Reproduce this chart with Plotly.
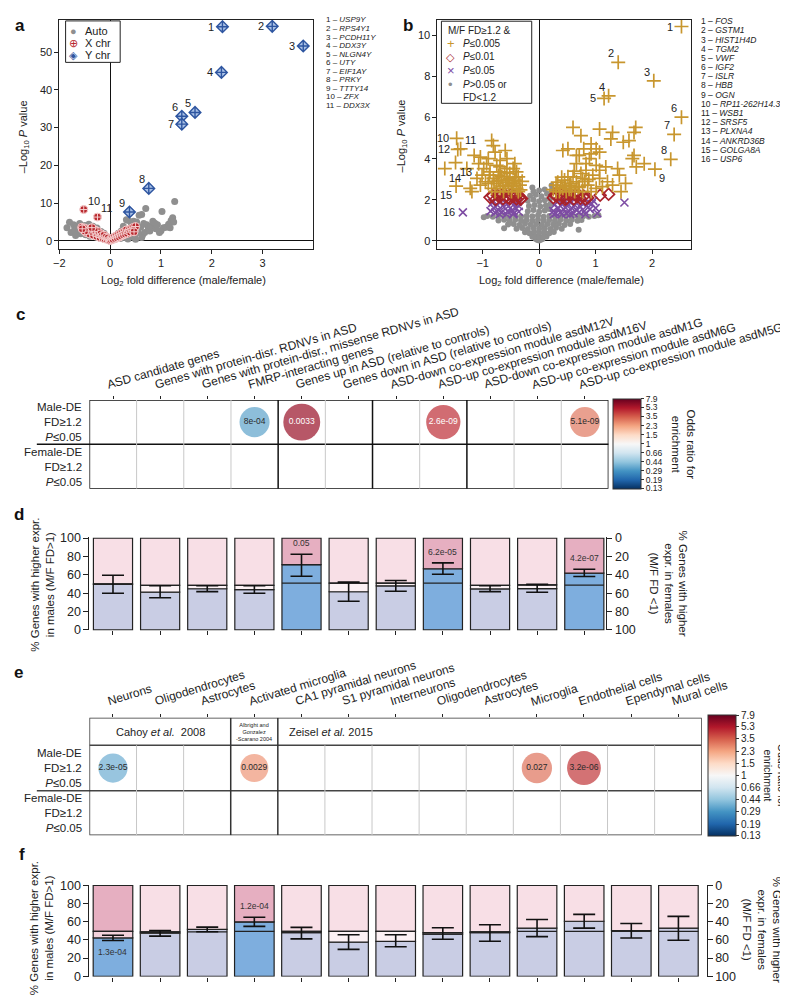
import math
import plotly.graph_objects as go

W, H = 788, 996
FONT = "Liberation Sans, Arial, Helvetica, sans-serif"


def px(x):
    return x / W


def py(y):
    return 1 - y / H


# ======================= DATA =======================
# ---- Panel a: volcano, sex chromosomes ----
a_ychr_x = [2.21, 3.19, 3.80, 2.19, 1.67, 1.41, 1.41, 0.76, 0.38]
a_ychr_y = [56.7, 56.8, 51.6, 44.6, 34.0, 33.0, 30.9, 13.9, 7.65]
a_ychr_num = ["1", "2", "3", "4", "5", "6", "7", "8", "9"]

a_xchr_x = [-0.52, -0.25,
            -0.56, -0.52, -0.50, -0.47, -0.45, -0.42, -0.40, -0.38, -0.35, -0.33,
            -0.30, -0.28, -0.26, -0.24, -0.22, -0.20, -0.18, -0.16, -0.14, -0.12,
            -0.10, -0.08, -0.06, -0.04, -0.02,
            0.00, 0.02, 0.04, 0.06, 0.08, 0.10, 0.12, 0.14, 0.16, 0.18,
            0.20, 0.22, 0.24, 0.26, 0.28, 0.30, 0.32, 0.34, 0.36, 0.38,
            0.40, 0.42, 0.44, 0.46, 0.48, 0.50,
            0.47, -0.50, -0.36, -0.55]
a_xchr_y = [8.3, 6.3,
            3.6, 2.9, 3.4, 2.2, 3.0, 2.6, 1.8, 3.3, 2.4, 1.5,
            2.9, 2.0, 1.2, 2.5, 1.6, 0.9, 1.9, 1.3, 0.7, 1.5,
            0.5, 1.0, 0.4, 0.8, 0.2,
            0.1, 0.3, 0.7, 0.4, 1.0, 0.6, 1.3, 0.8, 1.6, 1.0,
            1.9, 1.3, 2.2, 1.6, 2.5, 1.8, 2.9, 2.0, 2.6, 3.0,
            2.3, 3.3, 2.7, 3.6, 3.1, 3.8,
            2.4, 2.6, 3.5, 3.2]
a_xchr_num = ["10", "11"]

a_auto_x = [-0.85, -0.80, -0.77, -0.72, -0.70, -0.68, -0.65, -0.62, -0.60, -0.58,
            -0.55, -0.52, -0.50, -0.48, -0.46, -0.44, -0.42, -0.40, -0.38, -0.36,
            -0.34, -0.32, -0.30, -0.28, -0.26, -0.24, -0.22, -0.20, -0.18, -0.16,
            -0.14, -0.12, -0.10, -0.08, -0.06, -0.04, -0.02,
            0.02, 0.04, 0.06, 0.08, 0.10, 0.12, 0.14, 0.16, 0.18, 0.20,
            0.22, 0.24, 0.26, 0.28, 0.30, 0.32, 0.34, 0.36, 0.38, 0.40,
            0.42, 0.44, 0.46, 0.48, 0.50, 0.52,
            0.55, 0.57, 0.60, 0.62, 0.64, 0.66, 0.68, 0.70, 0.72, 0.75,
            0.78, 0.80, 0.84, 0.88, 0.90, 0.93, 0.97, 1.00, 1.02, 1.05,
            1.10, 1.15, 1.18, 1.20, 1.23, 1.25, 1.27,
            0.35, 0.50, 0.62, 0.45]
a_auto_y = [3.5, 4.9, 2.2, 4.3, 3.0, 1.4, 3.8, 2.6, 4.6, 1.9,
            3.3, 2.8, 4.1, 1.6, 3.6, 2.3, 4.4, 1.2, 3.0, 2.0,
            3.9, 1.5, 2.7, 1.0, 3.4, 2.1, 0.8, 1.7, 2.5, 0.6,
            1.3, 2.0, 0.5, 1.1, 0.3, 0.7, 0.2,
            0.2, 0.6, 0.3, 1.0, 0.5, 1.5, 0.8, 2.0, 1.2, 0.6,
            2.6, 1.6, 3.9, 0.9, 2.2, 5.6, 1.4, 5.4, 3.0, 1.9,
            4.2, 2.6, 5.2, 1.2, 3.4, 5.0,
            2.2, 6.8, 3.6, 7.0, 1.6, 4.6, 2.2, 8.6, 4.3, 3.0,
            2.6, 3.9, 5.2, 4.7, 3.2, 4.3, 2.2, 2.7, 7.8, 3.5,
            3.6, 4.4, 3.5, 5.4, 6.1, 5.0, 10.4,
            0.5, 0.4, 0.9, 1.0]
a_genes = ["USP9Y", "RPS4Y1", "PCDH11Y", "DDX3Y", "NLGN4Y", "UTY", "EIF1AY",
           "PRKY", "TTTY14", "ZFX", "DDX3X"]
a_xticks = [-1, 0, 1, 2, 3]
a_xticklabels = ["\u22122", "0", "1", "2", "3"]

# ---- Panel b: volcano, autosomal genes ----
b_gold_x = [2.52, 1.40, 2.03, 1.23, 1.15, 2.52, 2.39, 2.33, 2.05, -1.46, -1.39, -1.44, -1.48, -1.67, -1.47,
            -1.22, -1.19, -1.15, -1.04, -1.07, -0.98, -1.01, -1.10, -0.95, -1.04,
            -0.84, -0.81, -0.78, -0.90, -0.69, -0.60, -0.57, -0.43, -0.46, -0.75,
            -0.87, -0.69, -0.57, -0.40, -0.81, -0.66, -0.52, -0.37, -0.90, -0.75,
            -0.60, -0.46, -0.34, -0.84, -0.69, -0.54, -0.40, -0.78, -0.63, -0.49,
            -0.37, -0.72, -0.57, -0.43, -0.52, -0.69, -0.93, -1.28,
            -0.64, -0.48, -0.33, -0.80, -0.55, -0.42, -0.30, -0.88, -0.72, -0.61,
            0.60, 0.74, 1.07, 1.30, 1.27, 1.71, 1.68, 1.59, 1.49, 0.92,
            1.01, 0.79, 0.51, 0.42, 1.07, 0.92, 0.71, 1.68, 1.65, 1.86,
            1.72, 1.39, 1.42, 1.18, 1.01, 0.83, 0.66, 0.66, 0.89, 1.07,
            0.95, 1.21, 1.30, 1.12, 1.45, 1.53, 1.07, 0.30, 0.42, 0.54,
            0.66, 0.77, 0.30, 0.45, 0.60, 0.74, 0.83, 0.36, 0.48, 0.63,
            0.77, 0.92, 0.71, 0.86, 1.01, 0.51, 0.25, 0.38, 0.57,
            0.33, 0.56, 0.69, 0.81, 0.47, 0.62, 0.88, 0.40, 0.53]
b_gold_y = [10.43, 8.69, 7.79, 7.06, 6.93, 6.02, 5.18, 3.97, 3.49, 4.99, 4.48, 4.45, 3.81, 3.52, 2.67,
            2.56, 2.40, 4.16, 4.08, 3.76, 3.52, 3.20, 3.04, 2.88, 2.72,
            4.88, 4.64, 4.32, 4.00, 3.92, 4.40, 4.00, 3.76, 3.52, 3.68,
            3.36, 3.36, 3.52, 3.36, 3.04, 3.12, 3.04, 3.12, 2.80, 2.80,
            2.72, 2.80, 2.72, 2.56, 2.56, 2.56, 2.56, 2.40, 2.40, 2.40,
            2.40, 2.96, 2.96, 2.96, 3.28, 3.60, 3.76, 3.52,
            2.66, 2.66, 2.48, 2.90, 2.86, 3.10, 2.90, 3.20, 3.20, 3.34,
            5.52, 5.12, 5.44, 5.28, 4.96, 5.52, 5.28, 4.88, 4.80, 4.72,
            4.48, 4.48, 4.48, 4.40, 4.32, 4.24, 4.16, 4.16, 4.00, 3.76,
            3.60, 3.52, 3.20, 3.60, 3.68, 3.76, 3.76, 4.16, 4.00, 3.44,
            3.20, 2.88, 2.72, 2.64, 2.40, 2.80, 3.04, 2.40, 2.56, 2.72,
            2.88, 3.04, 2.72, 2.96, 3.12, 3.28, 3.44, 2.40, 2.40, 2.40,
            2.40, 2.40, 2.64, 2.72, 2.56, 3.12, 2.50, 2.60, 2.50,
            2.86, 2.80, 2.60, 2.90, 2.66, 3.40, 3.00, 3.10, 2.52]
b_gold_num = [str(i) for i in range(1, 16)]

b_red_x = [-0.87, -0.77, -0.70, -0.64, -0.58, -0.52, -0.46, -0.40, -0.35, -0.31, -0.66, -0.50, -0.38,
           -0.82, -0.74, -0.55, -0.43, -0.33,
           0.25, 0.31, 0.37, 0.43, 0.49, 0.55, 0.61, 0.67, 0.73, 0.79, 0.86, 1.08, 1.23, 0.40, 0.64,
           0.28, 0.46, 0.52, 0.70, 0.82]
b_red_y = [2.12, 2.02, 2.15, 2.05, 2.18, 2.06, 2.16, 2.04, 2.14, 2.07, 2.24, 2.25, 2.24,
           2.20, 2.22, 2.10, 2.22, 2.03,
           2.10, 2.20, 2.05, 2.16, 2.07, 2.20, 2.04, 2.15, 2.07, 2.18, 2.10, 2.22, 2.27, 2.25, 2.25,
           2.24, 2.02, 2.26, 2.24, 2.03]

b_purple_x = [-1.35, 1.51,
              -0.86, -0.80, -0.78, -0.74, -0.72, -0.68, -0.66, -0.62, -0.60, -0.56,
              -0.54, -0.50, -0.48, -0.45, -0.44, -0.41, -0.38, -0.36, -0.83, -0.70,
              -0.58, -0.46, -0.36,
              0.25, 0.27, 0.30, 0.32, 0.34, 0.38, 0.40, 0.43, 0.46, 0.48,
              0.50, 0.53, 0.56, 0.58, 0.61, 0.63, 0.66, 0.69, 0.71, 0.73,
              0.76, 0.80, 0.84, 0.87, 0.90, 0.93, 0.96, 1.00, 1.03, 0.82,
              0.26, 0.40, 0.55]
b_purple_y = [1.39, 1.87,
              1.45, 1.60, 1.38, 1.75, 1.50, 1.90, 1.40, 1.65, 1.85, 1.45,
              1.70, 1.95, 1.50, 1.35, 1.80, 1.60, 1.90, 1.42, 1.85, 1.30,
              1.30, 1.30, 1.70,
              1.45, 1.75, 1.35, 1.90, 1.60, 1.40, 1.80, 1.55, 1.95, 1.35,
              1.70, 1.45, 1.85, 1.60, 1.35, 1.75, 1.50, 1.90, 1.40, 1.65,
              1.85, 1.45, 1.70, 1.90, 1.55, 1.80, 1.95, 1.60, 1.35, 1.30,
              1.30, 1.30, 1.30]
b_purple_num = ["16"]

b_gray_x = [0.00, -0.03, 0.03, -0.06, 0.06,
            -0.12, -0.06, 0.00, 0.07, 0.13,
            -0.25, -0.17, -0.09, 0.00, 0.09, 0.18, 0.26,
            -0.40, -0.30, -0.20, -0.10, 0.00, 0.10, 0.20, 0.30, 0.40,
            -0.55, -0.45, -0.35, -0.25, -0.15, -0.05, 0.05, 0.15, 0.25, 0.35, 0.45, 0.55, 0.70, -0.62,
            -0.72, -0.62, -0.52, -0.42, -0.32, -0.22, -0.12, -0.02, 0.08, 0.18, 0.28, 0.38, 0.48, 0.58, 0.68, 0.75,
            -0.92, -0.82, -0.72, -0.62, -0.52, -0.42, -0.32, -0.22, -0.12, -0.02, 0.08,
            0.18, 0.28, 0.38, 0.48, 0.58, 0.68, 0.78, 0.88, 0.98, 1.05, -0.98,
            -0.20, -0.10, 0.00, 0.10, 0.18, -0.18, -0.08, 0.02, 0.12, 0.20,
            -0.20, -0.10, 0.00, 0.10, 0.19, -0.16, -0.06, 0.04, 0.14, 0.22,
            -0.10, 0.00, 0.10, 0.22, -0.12]
b_gray_y = [0.02, 0.05, 0.06, 0.10, 0.10,
            0.20, 0.22, 0.18, 0.20, 0.22,
            0.42, 0.38, 0.45, 0.40, 0.43, 0.38, 0.44,
            0.60, 0.63, 0.58, 0.64, 0.60, 0.62, 0.58, 0.64, 0.60,
            0.80, 0.83, 0.78, 0.84, 0.80, 0.82, 0.79, 0.83, 0.80, 0.84, 0.78, 0.82, 0.55, 0.62,
            1.00, 1.03, 0.98, 1.04, 1.00, 1.02, 0.98, 1.03, 1.00, 1.02, 0.98, 1.04, 1.00, 1.03, 0.98, 1.02,
            1.22, 1.18, 1.24, 1.20, 1.17, 1.23, 1.19, 1.22, 1.20, 1.24, 1.18,
            1.22, 1.20, 1.17, 1.23, 1.19, 1.22, 1.20, 1.18, 1.22, 1.25, 1.15,
            1.45, 1.50, 1.42, 1.48, 1.55, 1.70, 1.75, 1.68, 1.72, 1.80,
            1.95, 2.00, 1.93, 1.98, 2.05, 2.20, 2.25, 2.18, 2.30, 2.45,
            2.40, 2.45, 2.50, 2.70, 2.60]
b_genes = ["FOS", "GSTM1", "HIST1H4D", "TGM2", "VWF", "IGF2", "ISLR", "HBB", "OGN",
           "RP11-262H14.3", "WSB1", "SRSF5", "PLXNA4", "ANKRD36B", "GOLGA8A", "USP6"]

# ---- Panel c: ASD gene-set enrichment ----
c_categories = ["ASD candidate genes",
                "Genes with protein-disr. RDNVs in ASD",
                "Genes with protein-disr., missense RDNVs in ASD",
                "FMRP-interacting genes",
                "Genes up in ASD (relative to controls)",
                "Genes down in ASD (relative to controls)",
                "ASD-down co-expression module asdM12V",
                "ASD-up co-expression module asdM16V",
                "ASD-down co-expression module asdM1G",
                "ASD-up co-expression module asdM6G",
                "ASD-up co-expression module asdM5G"]
c_male_or = [None, None, None, 0.33, 6.0, None, None, 4.6, None, None, 3.0]
c_male_p = ["", "", "", "8e-04", "0.0033", "", "", "2.6e-09", "", "", "5.1e-09"]

or_ticks = [7.9, 5.3, 3.5, 2.3, 1.5, 1, 0.66, 0.44, 0.29, 0.19, 0.13]

# ---- Panel d: % genes with higher expression in males (ASD sets) ----
d_pct = [49.5, 41.0, 44.8, 43.9, 71.0, 41.5, 48.0, 66.6, 44.6, 45.0, 61.8]
d_exp = [50.0, 48.4, 48.4, 48.4, 50.9, 50.9, 51.0, 50.9, 48.4, 49.1, 48.7]
d_lo = [39.8, 35.0, 41.6, 39.8, 58.4, 31.2, 42.0, 60.6, 41.6, 40.9, 58.1]
d_hi = [59.5, 48.0, 48.0, 48.0, 82.4, 52.0, 53.8, 73.0, 48.0, 49.5, 66.0]
d_p = ["", "", "", "", "0.05", "", "", "6.2e-05", "", "", "4.2e-07"]

# ---- Panel e: cell-type enrichment ----
e_categories = ["Neurons", "Oligodendrocytes", "Astrocytes", "Activated microglia",
                "CA1 pyramidal neurons", "S1 pyramidal neurons", "Interneurons",
                "Oligodendrocytes", "Astrocytes", "Microglia", "Endothelial cells",
                "Ependymal cells", "Mural cells"]
e_male_or = [0.36, None, None, 2.5, None, None, None, None, None, 3.1, 4.4, None, None]
e_male_p = ["2.3e-05", "", "", "0.0029", "", "", "", "", "", "0.027", "3.2e-06", "", ""]

# ---- Panel f: % genes with higher expression in males (cell types) ----
f_pct = [42.2, 47.5, 51.6, 60.0, 48.0, 37.5, 38.5, 46.5, 48.0, 53.0, 60.6, 50.2, 53.0]
f_exp = [49.5, 49.0, 49.0, 49.5, 49.5, 49.5, 49.5, 48.0, 49.0, 49.5, 49.5, 49.5, 49.5]
f_lo = [39.4, 44.2, 49.0, 55.0, 41.2, 29.6, 32.5, 40.8, 38.6, 43.7, 53.0, 42.2, 39.7]
f_hi = [45.1, 50.4, 54.1, 65.0, 53.8, 45.8, 45.8, 53.4, 56.7, 62.5, 68.2, 58.1, 66.0]
f_p = ["1.3e-04", "", "", "1.2e-04", "", "", "", "", "", "", "", "", ""]

# ======================= STYLE =======================
INK = "#222222"
C_GRAY = "#8f8f8f"
C_XRED = "#b8282e"
C_YBLUE_LINE = "#2e55a0"
C_YBLUE_FILL = "#a9c1e6"
C_GOLD = "#c8962e"
C_DRED = "#a8232a"
C_PURPLE = "#7d4ca3"
C_NS_LO, C_NS_GAP, C_NS_HI = "#c9cde4", "#fcf1f4", "#f8dfe6"
C_SIG_LO, C_SIG_GAP, C_SIG_HI = "#7eaede", "#f3d2dc", "#e6afc1"
RDBU = [[0.0, "#053061"], [0.1, "#2166ac"], [0.2, "#4393c3"], [0.3, "#92c5de"],
        [0.4, "#d1e5f0"], [0.5, "#f7f7f7"], [0.6, "#fddbc7"], [0.7, "#f4a582"],
        [0.8, "#d6604d"], [0.9, "#b2182b"], [1.0, "#67001f"]]
CMIN, CMAX = math.log(0.127), math.log(7.9)

fig = go.Figure()
annotations = []
shapes = []


def txt(x, y, text, size=11, xanchor="center", yanchor="middle", angle=0, color=INK,
        xref="paper", yref="paper", xshift=0, yshift=0, bold=False, align="center"):
    annotations.append(dict(x=x, y=y, xref=xref, yref=yref, text=text, showarrow=False,
                            xanchor=xanchor, yanchor=yanchor, textangle=angle, align=align,
                            xshift=xshift, yshift=yshift,
                            font=dict(size=size, family=FONT, color=color,
                                      weight="bold" if bold else "normal")))


POS = {"L": ("right", "middle", -6, 0), "TL": ("right", "bottom", -2, 1),
       "TR": ("left", "bottom", 2, 1), "BR": ("left", "top", 2, -1),
       "BL": ("right", "top", -2, -1)}


def num_labels(xs, ys, labels, poss, xref, yref):
    for x, y, t, p in zip(xs, ys, labels, poss):
        xa, ya, dx, dy = POS[p]
        txt(x, y, t, size=11, xanchor=xa, yanchor=ya, xref=xref, yref=yref, xshift=dx, yshift=dy)


def hidden(**kw):
    d = dict(showgrid=False, zeroline=False, visible=False)
    d.update(kw)
    return d


def vaxis(**kw):
    d = dict(showgrid=False, zeroline=False, ticks="outside", ticklen=4, tickcolor=INK,
             linecolor=INK, showline=True, tickfont=dict(size=11, family=FONT, color=INK))
    d.update(kw)
    return d


# ---------------- Panel a ----------------
fig.add_trace(go.Scatter(x=a_auto_x, y=a_auto_y, mode="markers", xaxis="x", yaxis="y",
                         marker=dict(color=C_GRAY, size=7), hoverinfo="skip"))
fig.add_trace(go.Scatter(x=a_xchr_x, y=a_xchr_y, mode="markers", xaxis="x", yaxis="y",
                         marker=dict(symbol="circle-cross", color=C_XRED, size=8,
                                     line=dict(color="#f6d0d0", width=1)), hoverinfo="skip"))
fig.add_trace(go.Scatter(x=a_ychr_x, y=a_ychr_y, mode="markers", xaxis="x", yaxis="y",
                         marker=dict(symbol="diamond-cross", color=C_YBLUE_FILL, size=9,
                                     line=dict(color=C_YBLUE_LINE, width=1.4)), hoverinfo="skip"))
num_labels(a_ychr_x, a_ychr_y, a_ychr_num, ["L", "L", "L", "L", "TL", "TL", "L", "TL", "TL"], "x", "y")
num_labels(a_xchr_x, a_xchr_y, a_xchr_num, ["TR", "TR"], "x", "y")
for i, g in enumerate(a_genes):
    txt(px(312), py(6 + 8.67 * i), f"{i + 1} \u2013 <i>{g}</i>", size=8, xanchor="left")
# legend a
shapes.append(dict(type="rect", xref="paper", yref="paper", x0=px(52), x1=px(107), y0=py(49), y1=py(7),
                   line=dict(color=INK, width=1), fillcolor="white", layer="above"))
for yy, glyph, col, lab in [(17, "\u25cf", C_GRAY, "Auto"), (29.5, "\u2295", C_XRED, "X chr"),
                            (42, "\u25c8", C_YBLUE_LINE, "Y chr")]:
    txt(px(60), py(yy), glyph, size=11, color=col)
    txt(px(70), py(yy), lab, size=11, xanchor="left")
txt(px(10), py(124), "\u2013Log<sub>10</sub> <i>P</i> value", size=11, angle=-90)
txt(px(171), py(271), "Log<sub>2</sub> fold difference (male/female)", size=11)

# ---------------- Panel b ----------------
fig.add_trace(go.Scatter(x=b_gray_x, y=b_gray_y, mode="markers", xaxis="x2", yaxis="y2",
                         marker=dict(color=C_GRAY, size=6), hoverinfo="skip"))
fig.add_trace(go.Scatter(x=b_purple_x, y=b_purple_y, mode="markers", xaxis="x2", yaxis="y2",
                         marker=dict(symbol="x-thin-open", color=C_PURPLE, size=8,
                                     line=dict(color=C_PURPLE, width=1.6)), hoverinfo="skip"))
fig.add_trace(go.Scatter(x=b_red_x, y=b_red_y, mode="markers", xaxis="x2", yaxis="y2",
                         marker=dict(symbol="diamond-open", color=C_DRED, size=9,
                                     line=dict(color=C_DRED, width=1.7)), hoverinfo="skip"))
fig.add_trace(go.Scatter(x=b_gold_x, y=b_gold_y, mode="markers", xaxis="x2", yaxis="y2",
                         marker=dict(symbol="cross-thin-open", color=C_GOLD, size=10,
                                     line=dict(color=C_GOLD, width=1.7)), hoverinfo="skip"))
num_labels(b_gold_x, b_gold_y, b_gold_num,
           ["L", "TL", "TL", "TL", "L", "TL", "TL", "TL", "BR", "L", "TR", "L", "BR", "BR", "BL"],
           "x2", "y2")
num_labels(b_purple_x, b_purple_y, b_purple_num, ["L"], "x2", "y2")
for i, g in enumerate(b_genes):
    txt(px(690), py(7.3 + 9.3 * i), f"{i + 1} \u2013 <i>{g}</i>", size=8.5, xanchor="left")
shapes.append(dict(type="rect", xref="paper", yref="paper", x0=px(430.7), x1=px(521.7), y0=py(90.5),
                   y1=py(7.3), line=dict(color=INK, width=1), fillcolor="white", layer="above"))
txt(px(435), py(16.7), "M/F FD\u22651.2 &amp;", size=10, xanchor="left")
for yy, glyph, col, lab in [(30, "+", C_GOLD, "<i>P</i>\u22640.005"),
                            (43.3, "\u25c7", C_DRED, "<i>P</i>\u22640.01"),
                            (57.5, "\u00d7", C_PURPLE, "<i>P</i>\u22640.05"),
                            (71.5, "\u2022", C_GRAY, "<i>P</i>&gt;0.05 or")]:
    txt(px(440), py(yy), glyph, size=13 if glyph != "\u25c7" else 11, color=col)
    txt(px(450), py(yy), lab, size=10, xanchor="left")
txt(px(450), py(84.5), "FD&lt;1.2", size=10, xanchor="left")
txt(px(391), py(124), "\u2013Log<sub>10</sub> <i>P</i> value", size=11, angle=-90)
txt(px(552), py(271), "Log<sub>2</sub> fold difference (male/female)", size=11)


# ---------------- helpers for c / e ----------------
def cbar(x0, ybot, length, fs):
    return dict(x=px(x0), xanchor="left", y=py(ybot), yanchor="bottom", len=length, lenmode="pixels",
                thickness=28, thicknessmode="pixels", xpad=0, ypad=0,
                tickvals=[math.log(v) for v in or_ticks], ticktext=[f"{v:g}" for v in or_ticks],
                ticks="outside", ticklen=3, tickcolor="#333",
                tickfont=dict(size=fs, family=FONT, color=INK), outlinewidth=1, outlinecolor="#333")


def circles(ors, pvals, xa, ya, yrow, cb):
    idx = [i + 1 for i, v in enumerate(ors) if v is not None]
    vals = [v for v in ors if v is not None]
    labs = [pvals[i - 1] for i in idx]
    fig.add_trace(go.Scatter(
        x=idx, y=[yrow] * len(idx), mode="markers+text", xaxis=xa, yaxis=ya, text=labs,
        textposition="middle center",
        textfont=dict(size=8.5, family=FONT, color=["white" if v >= 4.5 else "#2a2a2a" for v in vals]),
        marker=dict(size=[19 + 10 * abs(math.log(v)) for v in vals], color=[math.log(v) for v in vals],
                    colorscale=RDBU, cmin=CMIN, cmax=CMAX, line=dict(width=0),
                    showscale=True, colorbar=cb),
        hoverinfo="skip"))


ROW_MALE = "Male-DE<br>FD\u22651.2<br><i>P</i>\u22640.05"
ROW_FEMALE = "Female-DE<br>FD\u22651.2<br><i>P</i>\u22640.05"

# ---------------- Panel c ----------------
circles(c_male_or, c_male_p, "x3", "y3", 1.5, cbar(604, 481, 90, 8.5))
shapes.append(dict(type="rect", xref="x3", yref="y3", x0=0.5, x1=11.5, y0=0, y1=2,
                   line=dict(color="#111", width=1.5), layer="below"))
for k in range(1, 11):
    thick = k in (4, 6, 8)
    shapes.append(dict(type="line", xref="x3", yref="y3", x0=k + 0.5, x1=k + 0.5, y0=0, y1=2,
                       line=dict(color="#111" if thick else "#c8c8c8", width=1.5 if thick else 1),
                       layer="below"))
shapes.append(dict(type="line", xref="paper", yref="y3", x0=px(23), x1=px(599), y0=1, y1=1,
                   line=dict(color="#111", width=1.5), layer="below"))
for i, lab in enumerate(c_categories):
    txt(i + 1, py(385), lab, size=12, xanchor="left", yanchor="bottom", angle=-16,
        xref="x3", xshift=-10)
txt(px(71), py(413), ROW_MALE, size=11.5, xanchor="right", align="right")
txt(px(71), py(458.5), ROW_FEMALE, size=11.5, xanchor="right", align="right")
txt(px(675), py(436), "Odds ratio for<br>enrichment", size=11.5, angle=90)


# ---------------- bar panels d / f ----------------
def bars(xa, ya, yr, pct, exp, lo, hi, pv, width, ms):
    n = len(pct)
    idx = list(range(1, n + 1))
    sig = [p != "" for p in pv]
    top = [max(v, e) for v, e in zip(pct, exp)]
    ol = dict(color="#222", width=1.2)
    fig.add_trace(go.Bar(x=idx, y=pct, base=[0] * n, width=width, xaxis=xa, yaxis=ya,
                         marker=dict(color=[C_SIG_LO if s else C_NS_LO for s in sig], line=ol),
                         hoverinfo="skip"))
    fig.add_trace(go.Bar(x=idx, y=[t - v for t, v in zip(top, pct)], base=pct, width=width,
                         xaxis=xa, yaxis=ya,
                         marker=dict(color=[C_SIG_GAP if s else C_NS_GAP for s in sig], line=ol),
                         hoverinfo="skip"))
    fig.add_trace(go.Bar(x=idx, y=[100 - t for t in top], base=top, width=width, xaxis=xa, yaxis=ya,
                         marker=dict(color=[C_SIG_HI if s else C_NS_HI for s in sig], line=ol),
                         hoverinfo="skip"))
    # expected-proportion line across each bar (line-ew length = 1.4 * size)
    fig.add_trace(go.Scatter(x=idx, y=exp, mode="markers", xaxis=xa, yaxis=ya,
                             marker=dict(symbol="line-ew", size=ms, color="#222",
                                         line=dict(color="#222", width=1.3)), hoverinfo="skip"))
    fig.add_trace(go.Scatter(x=idx, y=pct, mode="markers", xaxis=xa, yaxis=ya,
                             marker=dict(size=1, color="rgba(0,0,0,0)"),
                             error_y=dict(type="data", symmetric=False,
                                          array=[h - v for h, v in zip(hi, pct)],
                                          arrayminus=[v - l for v, l in zip(pct, lo)],
                                          width=11, thickness=1.6, color="#111"),
                             hoverinfo="skip"))
    fig.add_trace(go.Scatter(x=[None], y=[None], xaxis=xa, yaxis=yr, mode="markers", hoverinfo="skip"))
    for i, p in enumerate(pv):
        if p:
            up = pct[i] > exp[i]
            txt(i + 1, hi[i] if up else lo[i], p, size=8.5, xref=xa, yref=ya,
                yanchor="bottom" if up else "top", yshift=4 if up else -5, color="#333")


bars("x4", "y4", "y5", d_pct, d_exp, d_lo, d_hi, d_p, 0.83, 28)
txt(px(28.5), py(578), "% Genes with higher expr.<br>in males (M/F FD&gt;1)", size=11.5, angle=-90)
txt(px(659), py(577), "% Genes with higher<br>expr. in females<br>(M/F FD &lt;1)", size=11.5, angle=90)

# ---------------- Panel e ----------------
circles(e_male_or, e_male_p, "x5", "y6", 68, cbar(699, 833, 121, 10))
shapes.append(dict(type="rect", xref="x5", yref="y6", x0=0.5, x1=13.5, y0=0, y1=119,
                   line=dict(color="#333", width=1.5), layer="below"))
shapes.append(dict(type="line", xref="x5", yref="y6", x0=0.5, x1=13.5, y0=91, y1=91,
                   line=dict(color="#444", width=1.5), layer="below"))
shapes.append(dict(type="line", xref="paper", yref="y6", x0=px(23), x1=px(693), y0=45, y1=45,
                   line=dict(color="#444", width=1.5), layer="below"))
for k in range(1, 13):
    if k in (3, 4):
        shapes.append(dict(type="line", xref="x5", yref="y6", x0=k + 0.5, x1=k + 0.5, y0=0, y1=119,
                           line=dict(color="#333", width=1.5), layer="below"))
    else:
        shapes.append(dict(type="line", xref="x5", yref="y6", x0=k + 0.5, x1=k + 0.5, y0=0, y1=91,
                           line=dict(color="#c8c8c8", width=1), layer="below"))
for i, lab in enumerate(e_categories):
    txt(i + 1, py(706), lab, size=12, xanchor="left", yanchor="bottom", angle=-17,
        xref="x5", xshift=-10)
txt(2, 105, "Cahoy <i>et al.</i>  2008", size=11, xref="x5", yref="y6")
txt(4, 105, "Albright and<br>Gonzalez<br>-Scarano 2004", size=5.5, xref="x5", yref="y6")
txt(4.5, 105, "Zeisel <i>et al.</i> 2015", size=11, xref="x5", yref="y6", xanchor="left", xshift=9)
txt(px(71), py(764), ROW_MALE, size=11.5, xanchor="right", align="right")
txt(px(71), py(809.5), ROW_FEMALE, size=11.5, xanchor="right", align="right")
txt(px(767), py(772), "Odds ratio for<br>enrichment", size=10.5, angle=90)

# ---------------- Panel f ----------------
bars("x6", "y7", "y8", f_pct, f_exp, f_lo, f_hi, f_p, 0.84, 28.5)
txt(px(28.5), py(926), "% Genes with higher expr.<br>in males (M/F FD&gt;1)", size=11.5, angle=-90)
txt(px(754), py(928), "% Genes with higher<br>expr. in females<br>(M/F FD &lt;1)", size=11.5, angle=90)

# ---------------- panel letters ----------------
for lx, ly, l in [(6, 12, "a"), (397, 12, "b"), (7, 304, "c"), (5, 507, "d"), (5, 667, "e"), (8, 852, "f")]:
    txt(px(lx), py(ly), l, size=17, bold=True, color="#111")

# ---------------- layout ----------------
pct_ticks = [0, 20, 40, 60, 80, 100]
fig.update_layout(
    width=W, height=H, margin=dict(l=0, r=0, t=0, b=0), autosize=False,
    paper_bgcolor="white", plot_bgcolor="white", showlegend=False, barmode="overlay",
    font=dict(family=FONT, color=INK),
    xaxis=vaxis(domain=[px(45.7), px(301.7)], range=[-1.0, 4.0], tickvals=a_xticks,
                ticktext=a_xticklabels, mirror=True, anchor="y", zeroline=True,
                zerolinecolor="#111", zerolinewidth=1.2),
    yaxis=vaxis(domain=[py(238.3), py(6)], range=[-2.2, 58.5], tickvals=[0, 10, 20, 30, 40, 50],
                mirror=True, anchor="x", zeroline=True, zerolinecolor="#111", zerolinewidth=1.2),
    xaxis2=vaxis(domain=[px(426.7), px(681.7)], range=[-1.80, 2.68], tickvals=[-1, 0, 1, 2],
                 ticktext=["\u22121", "0", "1", "2"], mirror=True, anchor="y2", zeroline=True,
                 zerolinecolor="#111", zerolinewidth=1.2),
    yaxis2=vaxis(domain=[py(238.3), py(6)], range=[-0.4, 10.75], tickvals=[0, 2, 4, 6, 8, 10],
                 mirror=True, anchor="x2", zeroline=True, zerolinecolor="#111", zerolinewidth=1.2),
    xaxis3=dict(domain=[px(76), px(599)], range=[0.5, 11.5], anchor="y3", side="top",
                tickvals=list(range(1, 12)), showticklabels=False, ticks="outside", ticklen=3,
                tickcolor=INK, showline=False, showgrid=False, zeroline=False),
    yaxis3=hidden(domain=[py(481), py(391)], range=[0, 2], anchor="x3"),
    xaxis4=dict(domain=[px(76), px(597)], range=[0.5, 11.47], anchor="y4",
                tickvals=list(range(1, 12)), showticklabels=False, ticks="outside", ticklen=4,
                tickcolor=INK, showline=False, showgrid=False, zeroline=False),
    yaxis4=vaxis(domain=[py(624.6), py(530.4)], range=[-0.7, 100.7], tickvals=pct_ticks, anchor="x4",
                 ticklen=5, tickfont=dict(size=12.5, family=FONT, color=INK)),
    yaxis5=vaxis(overlaying="y4", side="right", range=[100.7, -0.7], tickvals=pct_ticks, anchor="x4",
                 ticklen=5, tickfont=dict(size=12.5, family=FONT, color=INK)),
    xaxis5=dict(domain=[px(76), px(693)], range=[0.5, 13.5], anchor="y6", side="top",
                tickvals=list(range(1, 14)), showticklabels=False, ticks="outside", ticklen=3,
                tickcolor=INK, showline=False, showgrid=False, zeroline=False),
    yaxis6=hidden(domain=[py(832), py(713)], range=[0, 119], anchor="x5"),
    xaxis6=dict(domain=[px(76), px(698)], range=[0.5, 13.6], anchor="y7",
                tickvals=list(range(1, 14)), showticklabels=False, ticks="outside", ticklen=4,
                tickcolor=INK, showline=False, showgrid=False, zeroline=False),
    yaxis7=vaxis(domain=[py(975.6), py(882.4)], range=[-0.7, 100.7], tickvals=pct_ticks, anchor="x6",
                 ticklen=5, tickfont=dict(size=12.5, family=FONT, color=INK)),
    yaxis8=vaxis(overlaying="y7", side="right", range=[100.7, -0.7], tickvals=pct_ticks, anchor="x6",
                 ticklen=5, tickfont=dict(size=12.5, family=FONT, color=INK)),
    annotations=annotations,
    shapes=shapes,
)

fig.write_html("out.html")
